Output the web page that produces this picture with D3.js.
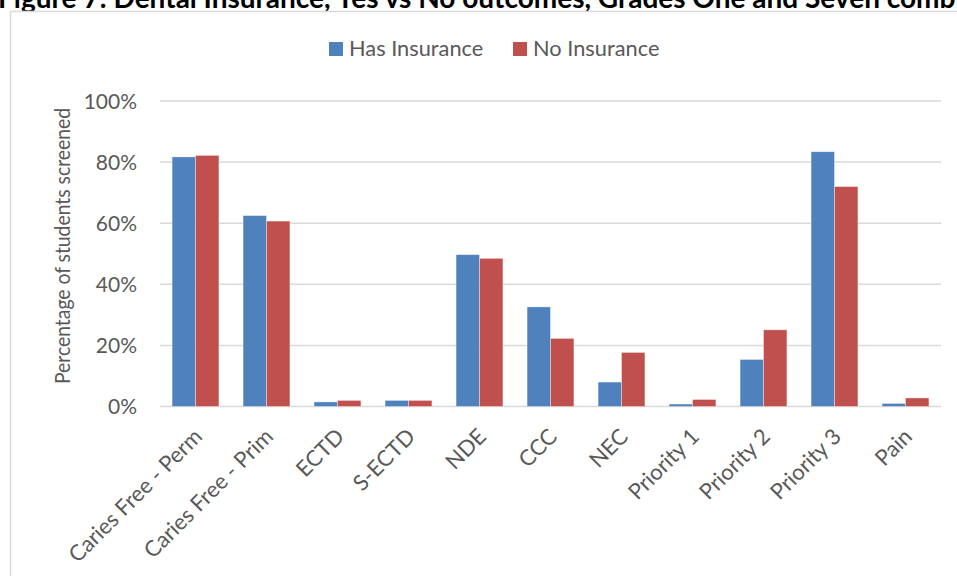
<!DOCTYPE html>
<html>
<head>
<meta charset="utf-8">
<script src="https://cdn.jsdelivr.net/npm/d3@7"></script>
<style>
  html, body { margin: 0; padding: 0; background: #fff; }
  svg { display: block; font-family: Lato, "Open Sans", sans-serif; }
</style>
</head>
<body>
<svg id="chart" width="957" height="576"></svg>
<script>
const categories = ["Caries Free - Perm", "Caries Free - Prim", "ECTD", "S-ECTD", "NDE", "CCC", "NEC", "Priority 1", "Priority 2", "Priority 3", "Pain"];
const seriesNames = ["Has Insurance", "No Insurance"];
const hasInsurance = [81.7, 62.5, 1.5, 2.0, 49.7, 32.6, 8.0, 0.8, 15.4, 83.4, 1.0];
const noInsurance  = [82.2, 60.7, 2.0, 2.0, 48.5, 22.3, 17.7, 2.3, 25.1, 72.0, 2.8];
const yTicks = [0, 20, 40, 60, 80, 100];
const colors = ["#4f81bd", "#c0504d"];
const titleText = "Figure 7: Dental Insurance, Yes vs No outcomes, Grades One and Seven combined";
const yTitle = "Percentage of students screened";

const svg = d3.select("#chart");
const textColor = "#595959";

// title (cut at top, as in the reference)
svg.append("text").attr("x", -2).attr("y", 8)
  .attr("font-size", 28).attr("font-weight", "bold").attr("fill", "#000")
  .text(titleText);

// chart frame
svg.append("rect").attr("x", 10.5).attr("y", 11.5).attr("width", 960).attr("height", 580)
  .attr("fill", "#fff").attr("stroke", "#d9d9d9").attr("stroke-width", 1.5);

const x0 = d3.scaleBand().domain(categories).range([160, 941]).paddingInner(0.34).paddingOuter(0.17);
const x1 = d3.scaleBand().domain(seriesNames).range([0, x0.bandwidth()]);
const y = d3.scaleLinear().domain([0, 100]).range([406.5, 101]);

// gridlines
svg.append("g").selectAll("line").data(yTicks).join("line")
  .attr("x1", 160).attr("x2", 941)
  .attr("y1", d => y(d)).attr("y2", d => y(d))
  .attr("stroke", "#d9d9d9").attr("stroke-width", 1.5);

// y tick labels
svg.append("g").selectAll("text").data(yTicks).join("text")
  .attr("x", 137).attr("y", d => y(d)).attr("dy", "0.36em")
  .attr("text-anchor", "end").attr("font-size", 21).attr("fill", textColor)
  .text(d => d + "%");

// bars
const rows = categories.map((c, i) => ({ cat: c, vals: [hasInsurance[i], noInsurance[i]] }));
const groups = svg.append("g").selectAll("g").data(rows).join("g")
  .attr("transform", d => `translate(${x0(d.cat)},0)`);
groups.selectAll("rect").data(d => d.vals.map((v, j) => ({ v, s: seriesNames[j], j })))
  .join("rect")
  .attr("x", d => x1(d.s)).attr("width", x1.bandwidth())
  .attr("y", d => y(d.v)).attr("height", d => y(0) - y(d.v))
  .attr("fill", d => colors[d.j])
  .attr("stroke", "#ffffff").attr("stroke-opacity", 0.5).attr("stroke-width", 0.75);

// x labels
svg.append("g").selectAll("text").data(categories).join("text")
  .attr("transform", d => `translate(${x0(d) + x0.bandwidth() / 2 + 8},438) rotate(-45)`)
  .attr("text-anchor", "end").attr("font-size", 22).attr("fill", textColor)
  .text(d => d);

// y title
svg.append("text")
  .attr("transform", `translate(70,246) rotate(-90)`)
  .attr("text-anchor", "middle").attr("font-size", 21.5).attr("fill", textColor)
  .attr("textLength", 276).attr("lengthAdjust", "spacingAndGlyphs")
  .text(yTitle);

// legend
const legendX = [329, 513];
const lg = svg.append("g").selectAll("g").data(seriesNames).join("g")
  .attr("transform", (d, i) => `translate(${legendX[i]},42)`);
lg.append("rect").attr("width", 14).attr("height", 14).attr("fill", (d, i) => colors[i]);
lg.append("text").attr("x", 20).attr("y", 14).attr("font-size", 21.8).attr("fill", textColor).text(d => d);
</script>
</body>
</html>
